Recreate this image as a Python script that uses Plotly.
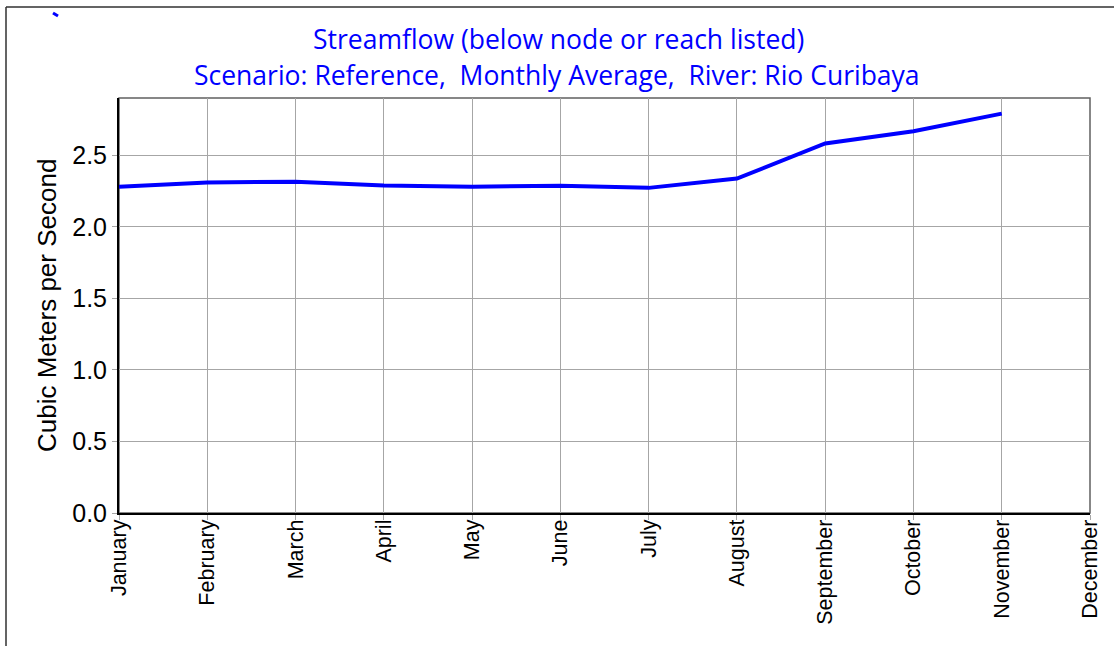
import plotly.graph_objects as go

months = ["January", "February", "March", "April", "May", "June", "July",
          "August", "September", "October", "November", "December"]
flow = [2.28, 2.31, 2.315, 2.288, 2.28, 2.286, 2.272, 2.337, 2.582, 2.668, 2.791, None]
y_ticks = [0.0, 0.5, 1.0, 1.5, 2.0, 2.5]
y_tick_text = ["0.0", "0.5", "1.0", "1.5", "2.0", "2.5"]

W, H = 1114, 646
L, R, T, B = 119, 24, 98, 133
PW, PH = W - L - R, H - T - B


def px(x):
    return (x - L) / PW


def py(y):
    return (H - B - y) / PH


fig = go.Figure()
fig.add_trace(go.Scatter(
    x=months, y=flow, mode="lines",
    line=dict(color="#0000ff", width=4),
    connectgaps=False, showlegend=False, hoverinfo="x+y"))

axis_font = dict(family="Liberation Sans, Arial, sans-serif", color="black")

fig.update_layout(
    width=W, height=H,
    margin=dict(l=L, r=R, t=T, b=B, autoexpand=False),
    paper_bgcolor="white", plot_bgcolor="white",
    showlegend=False,
    xaxis=dict(
        type="category", categoryorder="array", categoryarray=months,
        range=[0, 11], showgrid=True, gridcolor="#a6a6a6", gridwidth=1,
        showline=True, linecolor="black", linewidth=2,
        ticks="outside", ticklen=5, tickcolor="#a6a6a6",
        tickangle=-90, tickfont=dict(size=21.5, **axis_font),
        ticklabelstandoff=-9,
        zeroline=False),
    yaxis=dict(
        range=[0, 2.9], tickvals=y_ticks, ticktext=y_tick_text,
        showgrid=True, gridcolor="#a6a6a6", gridwidth=1,
        showline=True, linecolor="black", linewidth=2,
        ticks="outside", ticklen=5, tickcolor="#a6a6a6",
        tickfont=dict(size=25, **axis_font), zeroline=False),
    font=dict(family="Liberation Sans, Arial, sans-serif", color="black"),
)

# plot frame (top/right gray)
fig.add_shape(type="rect", xref="paper", yref="paper", x0=0, x1=1, y0=0, y1=1,
              line=dict(color="#606060", width=1.5), layer="below")
# outer frame partial lines
fig.add_shape(type="line", xref="paper", yref="paper",
              x0=px(6), x1=px(6), y0=py(7), y1=py(H + 5),
              line=dict(color="#303030", width=1.5))
fig.add_shape(type="line", xref="paper", yref="paper",
              x0=px(6), x1=px(W + 5), y0=py(7), y1=py(7),
              line=dict(color="#303030", width=1.5))
# small stray mark
fig.add_shape(type="line", xref="paper", yref="paper",
              x0=px(53), x1=px(58), y0=py(13), y1=py(16),
              line=dict(color="#0000ff", width=3))

title_font = dict(family="Open Sans, Noto Sans, sans-serif", size=26.5, color="#0000ff")
fig.add_annotation(text="Streamflow (below node or reach listed)",
                   xref="paper", yref="paper", x=px(558), y=py(39),
                   xanchor="center", yanchor="middle", showarrow=False, font=title_font)
fig.add_annotation(text="Scenario: Reference,&nbsp; Monthly Average,&nbsp; River: Rio Curibaya",
                   xref="paper", yref="paper", x=px(557), y=py(75),
                   xanchor="center", yanchor="middle", showarrow=False, font=title_font)
fig.add_annotation(text="Cubic Meters per Second", textangle=-90,
                   xref="paper", yref="paper", x=px(47), y=py(306),
                   xanchor="center", yanchor="middle", showarrow=False,
                   font=dict(family="Liberation Sans, Arial, sans-serif", size=26, color="black"))

fig.write_html("out.html", config={"displayModeBar": False},
               post_script="document.body.style.margin='0px';document.body.style.overflow='hidden';")
